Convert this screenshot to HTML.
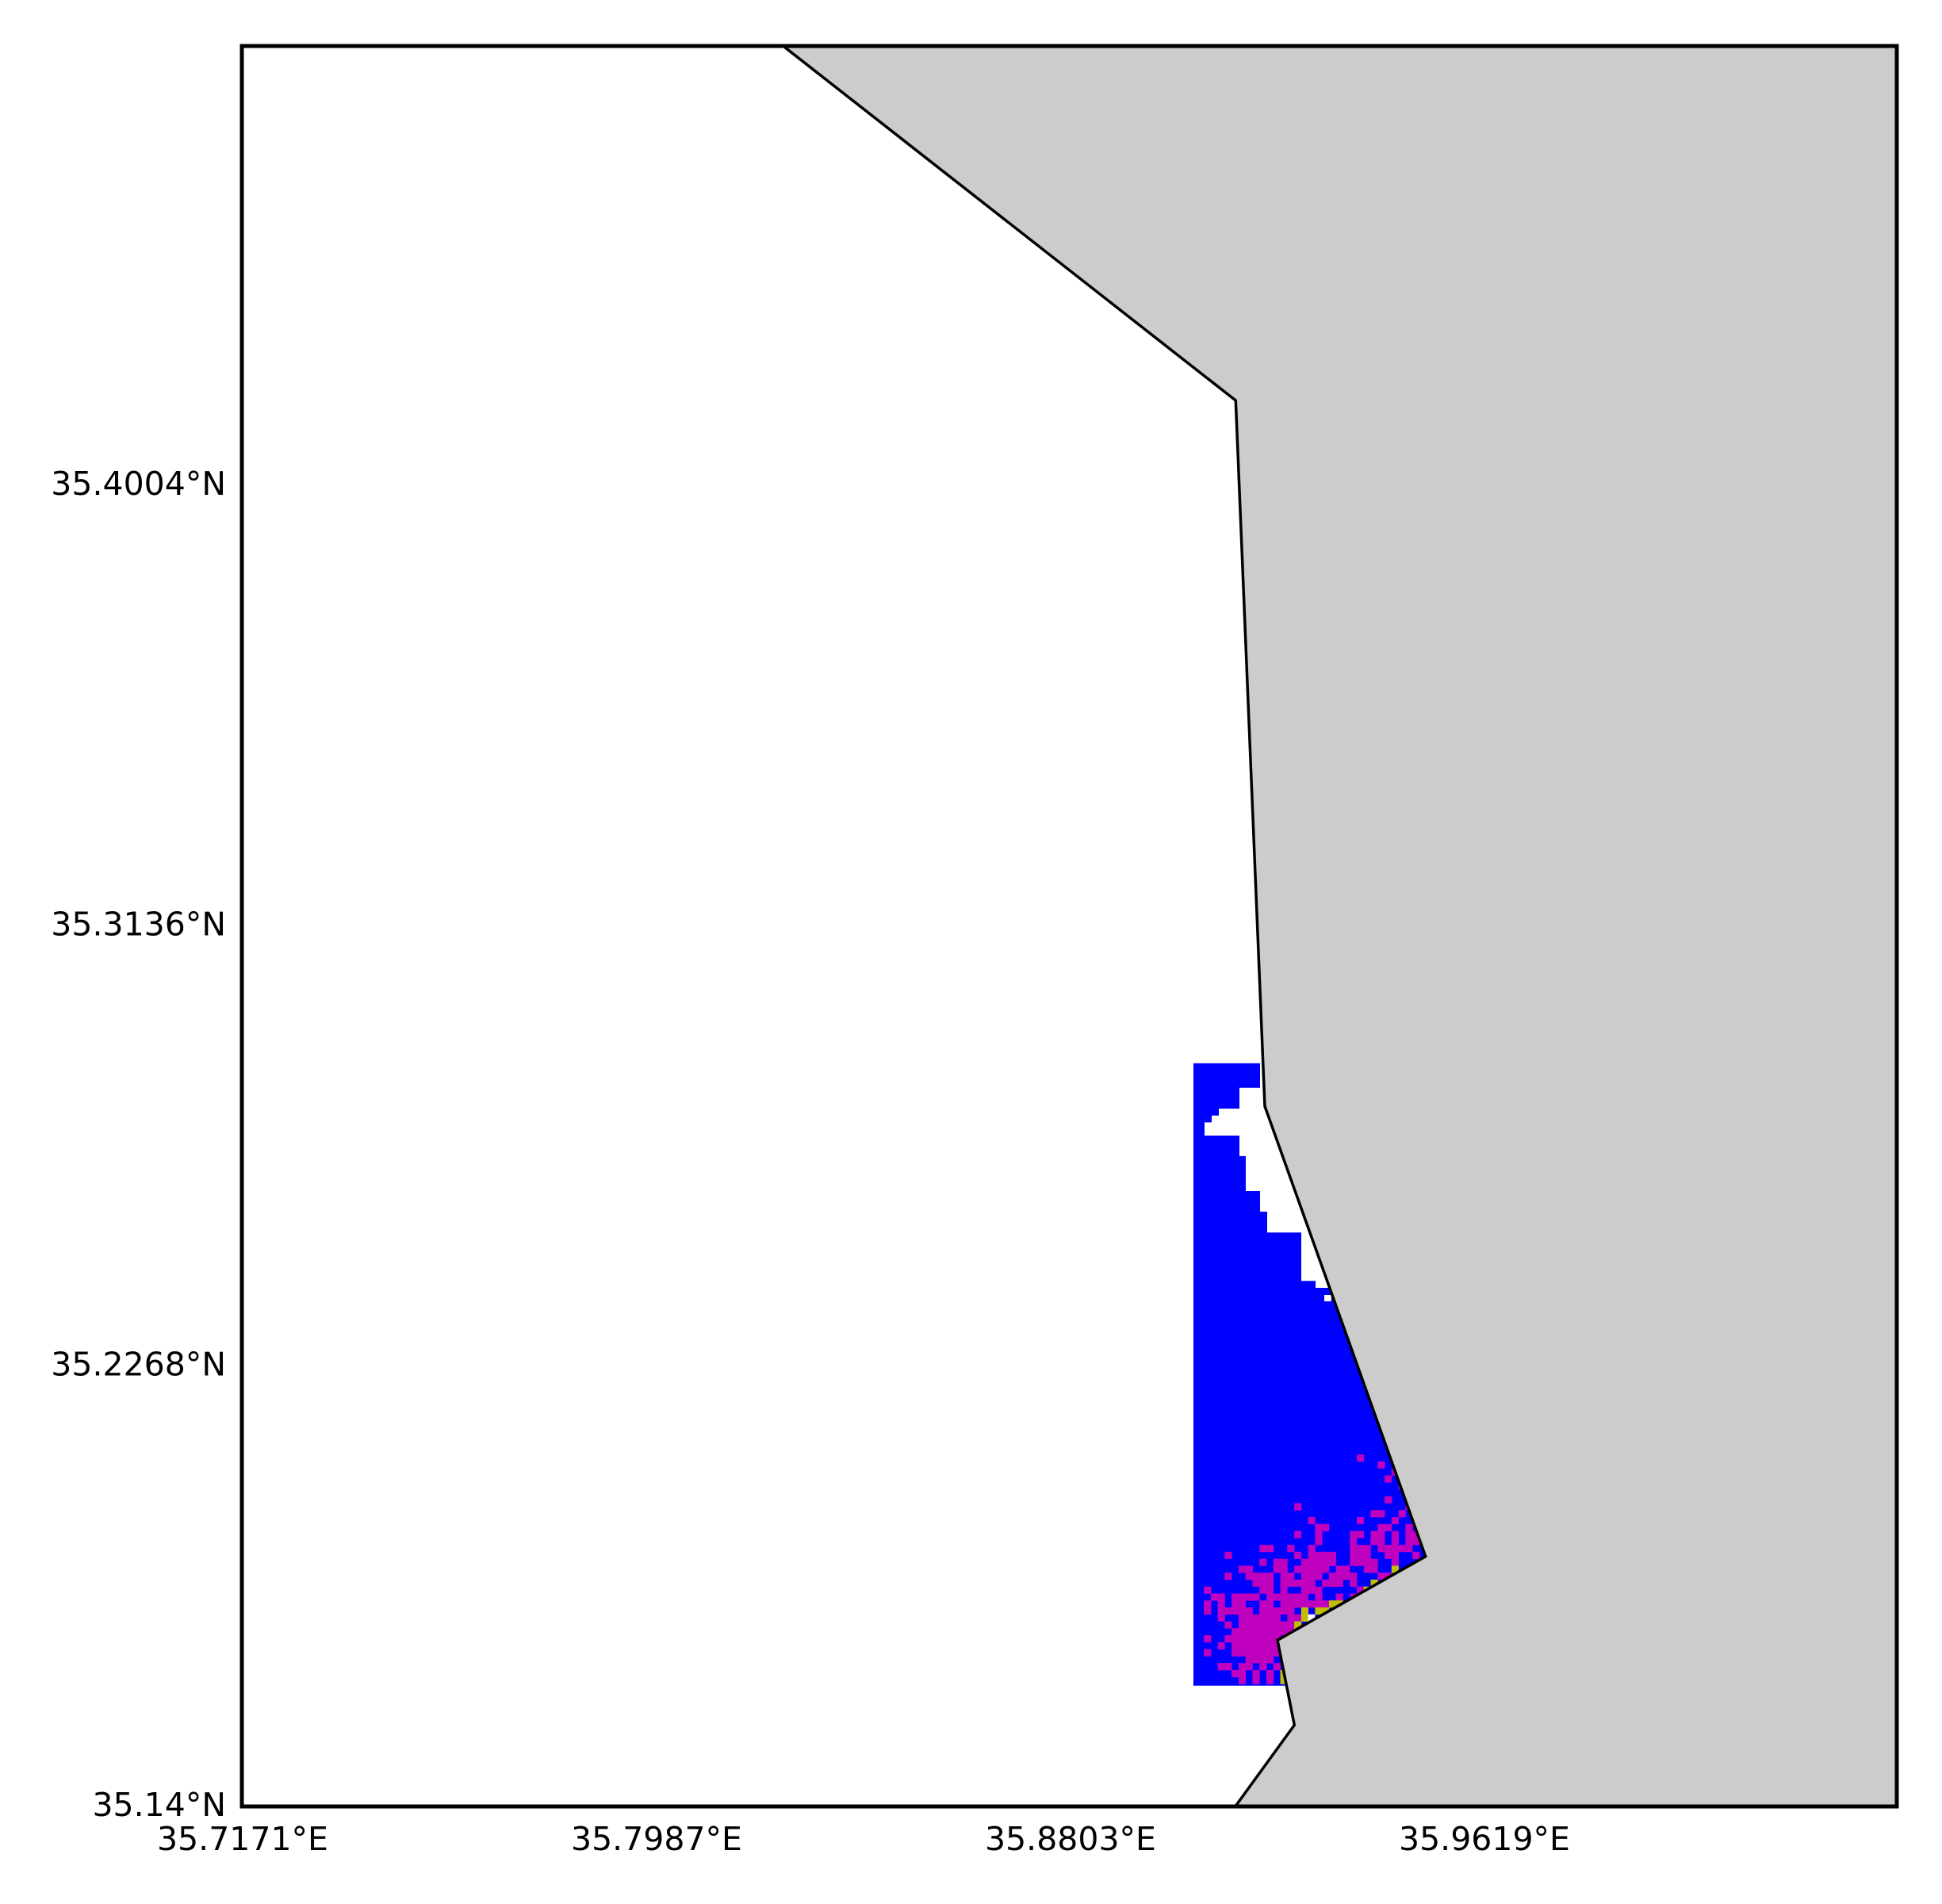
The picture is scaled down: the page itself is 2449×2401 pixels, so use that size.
<!DOCTYPE html>
<html><head><meta charset="utf-8"><style>
html,body{margin:0;padding:0;background:#fff;}
svg{display:block;}
text{font-family:"DejaVu Sans","Liberation Sans",sans-serif;font-size:41px;fill:#000;}
</style></head><body>
<svg id="chart" xmlns="http://www.w3.org/2000/svg" width="2449" height="2401" viewBox="0 0 2449 2401">
<rect x="0" y="0" width="2449" height="2401" fill="#fff"/>
<g id="plot"></g>
</svg>
<script>
// grid (column indices per row) of classified cells
const magentaCols = [
 [],[23],[26],[28],[27],[29],[],[27],[14,30],[25,26,29],[16,23,28],
 [17,18,26,27,30],[14,17,22,23,25,26,28,30,31],[17,22,25,26,28,30,31],
 [9,10,13,16,22,23,24,26,27,28,29,30],[4,14,16,17,18,19,22,23,24,27,28,31],
 [9,11,12,15,16,17,18,19,22,23,24,25,28],[6,7,11,12,14,15,16,17,18,20,21,24,25],
 [4,7,8,9,10,12,13,15,16,17,19,20,21,22,26,27],[8,9,10,12,13,14,15,16,18,19,20,22],
 [1,9,10,12,15,16,17,23],[2,3,5,6,7,8,10,11,12,13,14,15,17,20,22],
 [1,3,5,6,9,10,12,13,14,15,16,17,18],[1,3,4,5,6,7,9,10,11,12,13],
 [3,6,7,8,9,10,11,13,14],[4,6,7,8,9,10,11,12,13],[5,6,7,8,9,10,11,12,13],
 [1,4,5,6,7,8,9,10,11],[3,5,6,7,8,9,10,11],[1,5,6,7,8,9,10,11],[7,8,9,10],
 [3,4,6,7,9,11],[5,6,8,10],[6,8,10]
];
const yellowCols = [
 [],[],[],[],[],[],[],[],[],[],[],[],[],[],[],[],[],[28],[],[25],[24],[],
 [19,20],[15,17,18],[15],[14],[14],[],[],[],[],[],[12],[12]
];
const xTickLabels = ["35.7171°E","35.7987°E","35.8803°E","35.9619°E"];
const xTickValues = [35.7171,35.7987,35.8803,35.9619];
const yTickLabels = ["35.4004°N","35.3136°N","35.2268°N","35.14°N"];
const yTickValues = [35.4004,35.3136,35.2268,35.14];

const NS="http://www.w3.org/2000/svg";
const g=document.getElementById('plot');
const AX={l:305,r:2392,t:58,b:2278};
const lon0=35.7171, lat0=35.14,lat1=35.4004;
function xs(v){return 305+(v-lon0)*(828-306)/(35.7987-35.7171)+1;}
function ys(v){return 2275+(v-lat0)*(609-2275)/(lat1-lat0);}
function mk(tag,attrs){const e=document.createElementNS(NS,tag);for(const k in attrs)e.setAttribute(k,attrs[k]);g.appendChild(e);return e;}

let e=mk('rect',{x:1505,y:1340.8,width:300,height:784.9,fill:'#0000ff'});


e=mk('polygon',{fill:'#fff',points:'1589,1340.8 1589,1371.8 1563,1371.8 1563,1398 1537,1398 1537,1406.8 1528,1406.8 1528,1415.4 1519,1415.4 1519,1432 1563,1432 1563,1457.9 1571,1457.9 1571,1502 1589,1502 1589,1527.9 1598,1527.9 1598,1554.3 1641,1554.3 1641,1615.2 1659,1615.2 1659,1624 1800,1624 1800,1340.8'});


e=mk('rect',{x:1670,y:1633,width:8.8,height:8,fill:'#fff'});



const cw=8.767, cx0=1509.33, cy0=1825.33;
magentaCols.forEach((cols,j)=>cols.forEach(i=>{
  const c=mk('rect',{x:cx0+cw*i,y:cy0+cw*j,width:cw+0.4,height:cw+0.4,fill:'#bf00bf'});
  
  
}));
yellowCols.forEach((cols,j)=>cols.forEach(i=>{
  const c=mk('rect',{x:cx0+cw*i,y:cy0+cw*j,width:cw+0.4,height:cw+0.4,fill:'#bfbf00'});
  
  
}));
e=mk('rect',{x:cx0+cw*16,y:cy0+cw*24,width:cw,height:cw,fill:'#fff'});



e=mk('polygon',{fill:'#cccccc',stroke:'#000','stroke-width':3.5,'stroke-linejoin':'miter',
 points:'987.6,58 1558.3,505 1595,1395 1797.7,1962.7 1611,2068.3 1632.3,2175.4 1557.8,2278 2392,2278 2392,58'});



e=mk('rect',{x:AX.l,y:AX.t,width:AX.r-AX.l,height:AX.b-AX.t,fill:'none',stroke:'#000','stroke-width':5});



xTickValues.forEach((v,k)=>{
  const t=mk('text',{x:xs(v),y:2333,'text-anchor':'middle'});
  t.textContent=xTickLabels[k];
  
  
});
yTickValues.forEach((v,k)=>{
  const t=mk('text',{x:285,y:ys(v)+15,'text-anchor':'end'});
  t.textContent=yTickLabels[k];
  
  
});
</script>
</body></html>
